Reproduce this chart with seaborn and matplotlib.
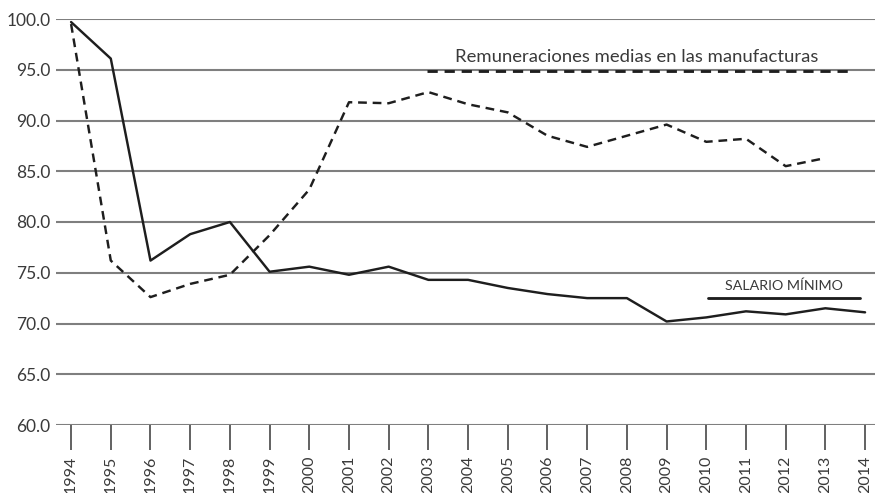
import matplotlib
matplotlib.use("Agg")
import matplotlib.pyplot as plt
import seaborn as sns
import pandas as pd
from matplotlib.lines import Line2D

years = list(range(1994, 2015))
salario_minimo = [99.7, 96.1, 76.2, 78.8, 80.0, 75.1, 75.6, 74.8, 75.6, 74.3,
                  74.3, 73.5, 72.9, 72.5, 72.5, 70.2, 70.6, 71.2, 70.9, 71.5, 71.1]
manufacturas = [99.5, 76.2, 72.6, 73.9, 74.8, 78.7, 83.2, 91.8, 91.7, 92.8,
                91.6, 90.8, 88.5, 87.4, 88.5, 89.6, 87.9, 88.2, 85.5, 86.3, None]
label_manuf = "Remuneraciones medias en las manufacturas"
label_sal = "SALARIO MÍNIMO"
yticks = [60, 65, 70, 75, 80, 85, 90, 95, 100]

sns.set_theme(style="white")
plt.rcParams['font.family'] = ['Lato', 'DejaVu Sans']

df_sal = pd.DataFrame({"year": years, "value": salario_minimo})
df_man = pd.DataFrame({"year": years, "value": manufacturas}).dropna()

fig = plt.figure(figsize=(8.75, 4.93), dpi=100)
ax = fig.add_axes([56/875, 1 - 425/493, 1 - 56/875, (425 - 19)/493])

ink = "#1e1e1e"
txt = "#3a3a3a"
lw = 1.75
dash = (0, (3.6, 2.4))
for v in yticks:
    ax.axhline(v, color="#7f7f7f", lw=1.5, zorder=1)

sns.lineplot(data=df_sal, x="year", y="value", ax=ax, color=ink, lw=lw,
             zorder=3, clip_on=False)
sns.lineplot(data=df_man, x="year", y="value", ax=ax, color=ink, lw=lw,
             zorder=3, clip_on=False, linestyle=dash)

ax.set_xlim(1993.62, 2014.25)
ax.set_ylim(60, 100)
ax.set_yticks(yticks)
ax.set_yticklabels([f"{v:.1f}" for v in yticks], fontsize=12.5, color=txt)
ax.set_xticks(years)
ax.set_xticklabels([str(y) for y in years], rotation=90, fontsize=11.5,
                   color=txt)
ax.tick_params(axis="x", length=18, width=1.3, color="#555555", pad=4,
               direction="out", bottom=True)
ax.tick_params(axis="y", length=0, pad=4)
ax.set_xlabel("")
ax.set_ylabel("")
for s in ax.spines.values():
    s.set_visible(False)

# legend-style annotations
ax.add_line(Line2D([(427-56)/819, (848-56)/819], [(94.9-60)/40]*2,
                   transform=ax.transAxes, color=ink, lw=lw + 0.3,
                   linestyle=dash, zorder=4))
ax.text((637-56)/819, (95.5-60)/40, label_manuf, transform=ax.transAxes,
        ha="center", va="bottom", fontsize=13.3, color=txt)
ax.add_line(Line2D([(708-56)/819, (860-56)/819], [(72.5-60)/40]*2,
                   transform=ax.transAxes, color=ink, lw=lw + 0.3, zorder=4))
ax.text((784-56)/819, (73.1-60)/40, label_sal, transform=ax.transAxes,
        ha="center", va="bottom", fontsize=10.3, color=txt)

fig.savefig("out.png", dpi=100)
